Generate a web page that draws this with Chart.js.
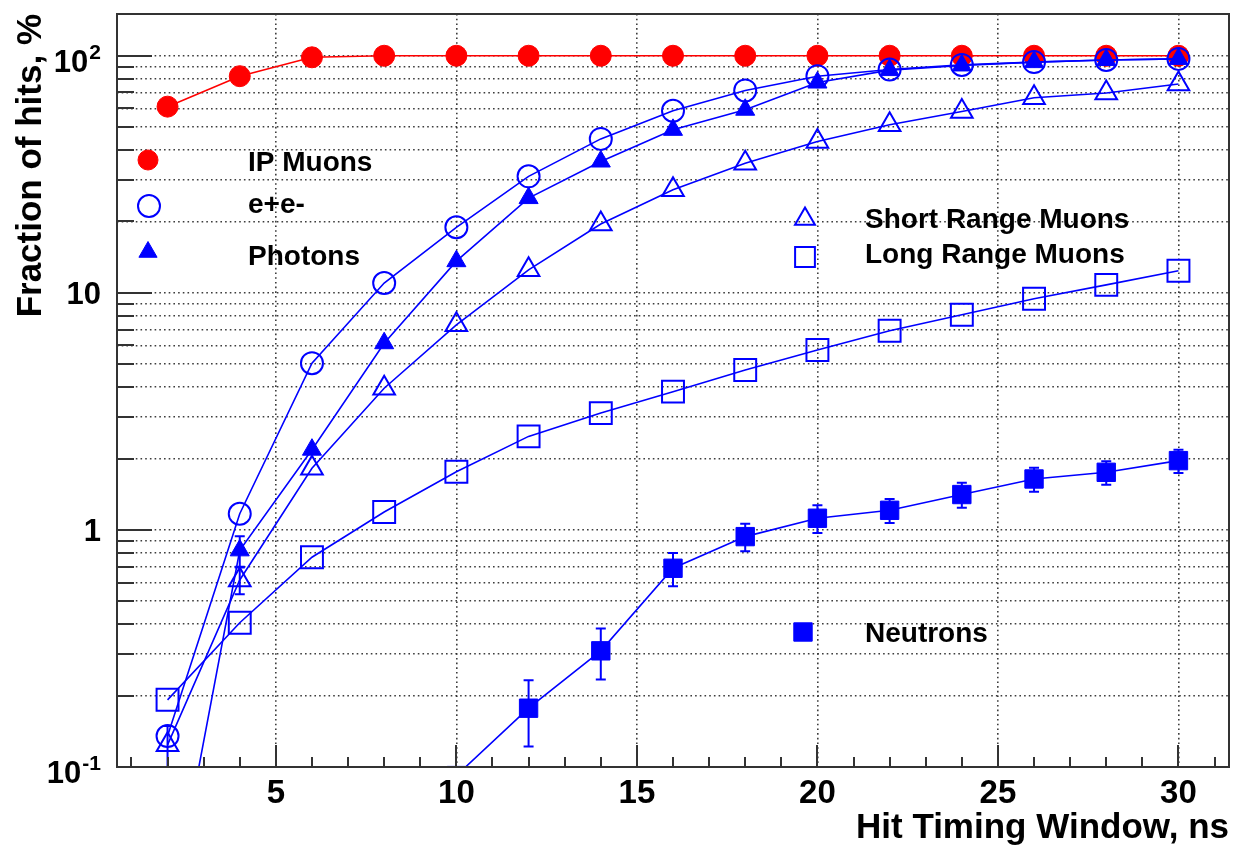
<!DOCTYPE html>
<html>
<head>
<meta charset="utf-8">
<title>Fraction of hits vs hit timing window</title>
<script src="https://cdn.jsdelivr.net/npm/chart.js@4.4.1/dist/chart.umd.min.js"></script>
<style>
  html, body { margin: 0; padding: 0; background: #fff; }
  canvas { display: block; }
</style>
</head>
<body>
<canvas id="hitsChart" width="1237" height="845"></canvas>
<script>
// Hit timing window, ns
const timeWindow = [2, 4, 6, 8, 10, 12, 14, 16, 18, 20, 22, 24, 26, 28, 30];

// Fraction of hits inside the window, %
const ipMuons         = [61, 82, 98.5, 100, 100, 100, 100, 100, 100, 100, 100, 100, 100, 100, 100];
const eePairs         = [0.135, 1.17, 5.05, 11.0, 18.9, 31.0, 44.6, 58.6, 71.4, 82.0, 87.5, 91.5, 94, 96, 97];
const photons         = [0.02, 0.82, 2.18, 6.13, 13.6, 25.1, 35.8, 48.7, 59.2, 77.1, 87, 91, 94, 96, 97];
const photonsErr      = [0, 0.12, 0, 0, 0, 0, 0, 0, 0, 0, 0, 0, 0, 0, 0];
const shortRangeMuons = [0.124, 0.615, 1.82, 3.96, 7.33, 12.5, 19.5, 27.2, 35.2, 43.5, 51.2, 58.2, 66.5, 69.6, 76];
const shortRangeErr   = [0.025, 0.08, 0, 0, 0, 0, 0, 0, 0, 0, 0, 0, 0, 0, 0];
const longRangeMuons  = [0.192, 0.406, 0.767, 1.19, 1.76, 2.48, 3.11, 3.83, 4.73, 5.74, 6.92, 8.08, 9.44, 10.8, 12.4];

const neutronWindow = [10, 12, 14, 16, 18, 20, 22, 24, 26, 28, 30];
const neutrons      = [0.092, 0.177, 0.309, 0.689, 0.937, 1.12, 1.21, 1.41, 1.64, 1.75, 1.96];
const neutronsErr   = [0, 0.055, 0.075, 0.11, 0.125, 0.15, 0.14, 0.17, 0.19, 0.2, 0.22];

// Axis ticks
const yGridValues = [0.1, 0.2, 0.3, 0.4, 0.5, 0.6, 0.7, 0.8, 0.9,
                     1, 2, 3, 4, 5, 6, 7, 8, 9,
                     10, 20, 30, 40, 50, 60, 70, 80, 90, 100];
const yDecades = [0.1, 1, 10, 100];
const yTickLabels = [
  { value: 100, base: '10', exp: '2' },
  { value: 10, base: '10', exp: '' },
  { value: 1, base: '1', exp: '' },
  { value: 0.1, base: '10', exp: '-1' }
];
const xMajorTicks = [5, 10, 15, 20, 25, 30];
const xMinorTicks = [1, 2, 3, 4, 6, 7, 8, 9, 11, 12, 13, 14, 16, 17, 18, 19,
                     21, 22, 23, 24, 26, 27, 28, 29, 31];

const FONT = '"Liberation Sans", Arial, Helvetica, sans-serif';
const BLUE = '#0000ff';
const RED = '#ff0000';
const AXIS = '#333333';

function toPoints(xs, ys) {
  return xs.map((x, i) => ({ x: x, y: ys[i] }));
}

function series(label, xs, ys, opts) {
  return Object.assign({
    label: label,
    data: toPoints(xs, ys),
    borderColor: BLUE,
    borderWidth: 1.6,
    pointBorderColor: BLUE,
    pointBackgroundColor: BLUE,
    pointBorderWidth: 1,
    tension: 0,
    fill: false,
    clip: 0
  }, opts);
}

// draw a marker with the same shapes Chart.js uses for points
function marker(ctx, style, x, y, r, fill, lw) {
  ctx.save();
  ctx.fillStyle = fill;
  ctx.strokeStyle = fill === 'transparent' ? BLUE : fill;
  ctx.lineWidth = lw;
  Chart.helpers.drawPoint(ctx, { pointStyle: style, radius: r, rotation: 0, borderWidth: lw }, x, y);
  ctx.restore();
}

const errorBars = {
  id: 'errorBars',
  beforeDatasetsDraw(chart) {
    const { ctx, chartArea, scales } = chart;
    ctx.save();
    ctx.beginPath();
    ctx.rect(chartArea.left, chartArea.top, chartArea.right - chartArea.left, chartArea.bottom - chartArea.top);
    ctx.clip();
    chart.data.datasets.forEach(ds => {
      if (!ds.errors) return;
      ctx.strokeStyle = ds.borderColor;
      ctx.lineWidth = 2;
      ds.data.forEach((p, i) => {
        const e = ds.errors[i];
        if (!e) return;
        const px = scales.x.getPixelForValue(p.x);
        const yTop = scales.y.getPixelForValue(p.y + e);
        const yBot = scales.y.getPixelForValue(p.y - e);
        ctx.beginPath();
        ctx.moveTo(px, yTop); ctx.lineTo(px, yBot);
        ctx.moveTo(px - 5, yTop); ctx.lineTo(px + 5, yTop);
        ctx.moveTo(px - 5, yBot); ctx.lineTo(px + 5, yBot);
        ctx.stroke();
      });
    });
    ctx.restore();
  }
};

const frameAndText = {
  id: 'frameAndText',
  afterDraw(chart) {
    const { ctx, chartArea: a, scales } = chart;
    const xs = scales.x, ys = scales.y;
    ctx.save();

    // frame
    ctx.strokeStyle = AXIS;
    ctx.lineWidth = 2;
    ctx.strokeRect(a.left, a.top, a.right - a.left, a.bottom - a.top);

    // tick marks inside the frame
    ctx.beginPath();
    yGridValues.forEach(v => {
      const py = Math.round(ys.getPixelForValue(v));
      const len = yDecades.includes(v) ? 35 : 17;
      ctx.moveTo(a.left, py); ctx.lineTo(a.left + len, py);
    });
    xMajorTicks.forEach(v => {
      const px = Math.round(xs.getPixelForValue(v));
      ctx.moveTo(px, a.bottom); ctx.lineTo(px, a.bottom - 22);
    });
    xMinorTicks.forEach(v => {
      const px = Math.round(xs.getPixelForValue(v));
      ctx.moveTo(px, a.bottom); ctx.lineTo(px, a.bottom - 10);
    });
    ctx.stroke();

    ctx.fillStyle = '#000';

    // x tick labels
    ctx.font = 'bold 33px ' + FONT;
    ctx.textAlign = 'center';
    ctx.textBaseline = 'alphabetic';
    xMajorTicks.forEach(v => {
      ctx.fillText(String(v), xs.getPixelForValue(v), 803);
    });

    // y tick labels, powers of ten with raised exponent
    yTickLabels.forEach(t => {
      const py = ys.getPixelForValue(t.value);
      const right = 101;
      ctx.textAlign = 'right';
      if (t.exp) {
        ctx.font = 'bold 21px ' + FONT;
        const ew = ctx.measureText(t.exp).width;
        ctx.fillText(t.exp, right, py + 3);
        ctx.font = 'bold 31px ' + FONT;
        ctx.fillText(t.base, right - ew - 1, py + 16);
      } else {
        ctx.font = 'bold 31px ' + FONT;
        ctx.fillText(t.base, right, py + 11);
      }
    });

    // axis titles
    ctx.font = 'bold 35px ' + FONT;
    ctx.textAlign = 'right';
    ctx.fillText('Hit Timing Window, ns', a.right, 838);

    ctx.save();
    ctx.translate(41, a.top);
    ctx.rotate(-Math.PI / 2);
    ctx.textAlign = 'right';
    ctx.fillText('Fraction of hits, %', 0, 0);
    ctx.restore();

    // legend entries
    marker(ctx, 'circle', 148, 160, 10, RED, 1);
    marker(ctx, 'circle', 149, 206, 11, 'transparent', 2);
    marker(ctx, 'triangle', 148, 252, 10.5, BLUE, 1);
    marker(ctx, 'triangle', 805, 219, 11.5, 'transparent', 2);
    marker(ctx, 'rect', 805, 257, 14, 'transparent', 2);
    marker(ctx, 'rect', 803, 632, 13, BLUE, 1);

    ctx.fillStyle = '#000';
    ctx.font = 'bold 28px ' + FONT;
    ctx.textAlign = 'left';
    ctx.fillText('IP Muons', 248, 171);
    ctx.fillText('e+e-', 248, 213);
    ctx.fillText('Photons', 248, 265);
    ctx.fillText('Short Range Muons', 865, 228);
    ctx.fillText('Long Range Muons', 865, 263);
    ctx.fillText('Neutrons', 865, 642);

    ctx.restore();
  }
};

const gridStyle = { color: 'rgba(40,40,40,0.9)', lineWidth: 1.6, drawTicks: false };
const gridBorder = { display: false, dash: [1.6, 3.1] };

new Chart(document.getElementById('hitsChart'), {
  type: 'line',
  data: {
    datasets: [
      series('IP Muons', timeWindow, ipMuons, {
        borderColor: RED, pointBorderColor: RED, pointBackgroundColor: RED,
        pointStyle: 'circle', pointRadius: 10.5, order: 10
      }),
      series('Long Range Muons', timeWindow, longRangeMuons, {
        pointStyle: 'rect', pointRadius: 15.5, pointBorderWidth: 2,
        pointBackgroundColor: 'transparent', order: 5
      }),
      series('Short Range Muons', timeWindow, shortRangeMuons, {
        pointStyle: 'triangle', pointRadius: 12.5, pointBorderWidth: 2,
        pointBackgroundColor: 'transparent', errors: shortRangeErr, order: 4
      }),
      series('e+e-', timeWindow, eePairs, {
        pointStyle: 'circle', pointRadius: 11, pointBorderWidth: 2,
        pointBackgroundColor: 'transparent', order: 3
      }),
      series('Photons', timeWindow, photons, {
        pointStyle: 'triangle', pointRadius: 11, errors: photonsErr, order: 2
      }),
      series('Neutrons', neutronWindow, neutrons, {
        pointStyle: 'rect', pointRadius: 13, errors: neutronsErr, order: 1
      })
    ]
  },
  options: {
    responsive: false,
    animation: false,
    events: [],
    layout: { autoPadding: false, padding: { left: 0, top: 14, right: 8, bottom: 0 } },
    plugins: { legend: { display: false }, tooltip: { enabled: false } },
    scales: {
      x: {
        type: 'linear',
        min: 0.6,
        max: 31.4,
        afterBuildTicks: scale => { scale.ticks = xMajorTicks.map(v => ({ value: v })); },
        afterFit: scale => { scale.height = 78; },
        ticks: { display: false },
        grid: gridStyle,
        border: gridBorder
      },
      y: {
        type: 'logarithmic',
        min: 0.1,
        max: 150,
        afterBuildTicks: scale => { scale.ticks = yGridValues.map(v => ({ value: v })); },
        afterFit: scale => { scale.width = 117; },
        ticks: { display: false },
        grid: gridStyle,
        border: gridBorder
      }
    }
  },
  plugins: [errorBars, frameAndText]
});
</script>
</body>
</html>
